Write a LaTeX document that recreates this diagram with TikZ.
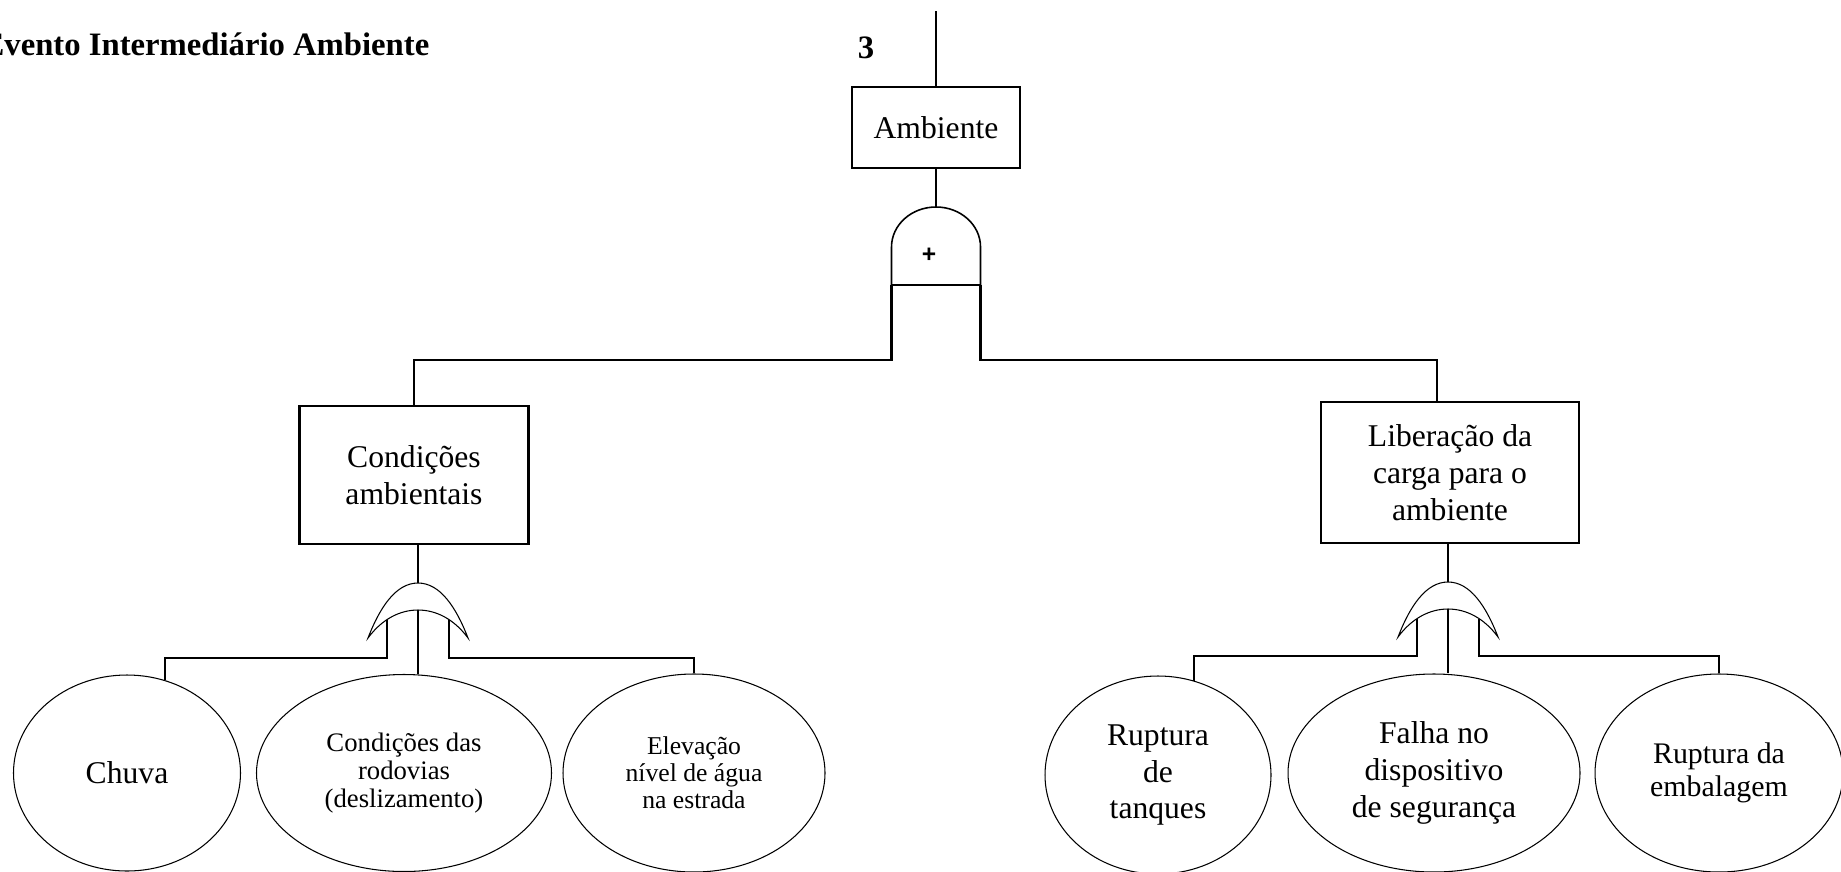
\documentclass[tikz,border=0pt]{standalone}
\usepackage{fontspec}
\setmainfont{Liberation Serif}
\newfontfamily\gatefont{Liberation Sans}
\usetikzlibrary{shapes.geometric}

\tikzset{
  evento/.style={draw, line width=0.6pt, align=center, inner sep=0pt, font=\fontsize{9pt}{10.5pt}\selectfont},
  basico/.style={draw, ellipse, line width=0.3pt, align=center, inner sep=0pt},
  ligacao/.style={line width=0.6pt},
  linhaporta/.style={line width=0.45pt},
  titulo/.style={inner sep=0pt, font=\bfseries\fontsize{9.3pt}{10.5pt}\selectfont},
  portae/.pic={
    \draw[linhaporta] (-44.5,-78) -- (-44.5,-40) arc[start angle=180, end angle=0, x radius=4.45mm, y radius=4mm] -- (44.5,-78) -- cycle;
    \node[font=\gatefont\bfseries\fontsize{7pt}{7pt}\selectfont, inner sep=0pt] (-mais) at (-7,-48) {+};
    \coordinate (-topo) at (0,0);
    \coordinate (-esq) at (-44.5,-78);
    \coordinate (-dir) at (44.5,-78);
  },
  portaou/.pic={
    \draw[linhaporta, line width=0.3pt] (-50,-55) .. controls (-38,-24) and (-22,0) .. (0,0)
      .. controls (22,0) and (38,-24) .. (50,-55)
      .. controls (36,-36) and (18,-27) .. (0,-27)
      .. controls (-18,-27) and (-36,-36) .. (-50,-55) -- cycle;
    \coordinate (-topo) at (0,0);
    \coordinate (-meio) at (0,-27);
    \coordinate (-esq) at (-31,-37);
    \coordinate (-dir) at (31,-37);
  }
}

\begin{document}
\begin{tikzpicture}[x=0.1mm, y=0.1mm]
\useasboundingbox (0,0) rectangle (1841,-871);

\node[titulo, anchor=base east] (cab) at (430,-56) {Evento Intermediário Ambiente};
\node[titulo, anchor=base] (num) at (866,-58) {3};

% eventos intermediarios
\node[evento, minimum width=16.8mm, minimum height=8.1mm] (amb) at (936,-127.5) {Ambiente};
\node[evento, minimum width=22.9mm, minimum height=13.8mm] (cond) at (414,-475) {Condições\\ambientais};
\node[evento, minimum width=25.8mm, minimum height=14.1mm] (lib) at (1450,-472.5) {Liberação da\\carga para o\\ambiente};

\pic (e1) at (936,-207) {portae};
\pic (ou1) at (418,-583) {portaou};
\pic (ou2) at (1448,-582) {portaou};

% eventos basicos
\node[basico, minimum width=22.7mm, minimum height=19.6mm, font=\fontsize{9pt}{10.5pt}\selectfont] (chuva) at (127,-773) {Chuva};
\node[basico, minimum width=29.5mm, minimum height=19.7mm, font=\fontsize{7.6pt}{7.9pt}\selectfont] (rod) at (404,-773) {Condições das\\rodovias\\(deslizamento)};
\node[basico, minimum width=26.2mm, minimum height=19.8mm, font=\fontsize{7.3pt}{7.7pt}\selectfont] (elev) at (694,-773) {Elevação\\nível de água\\na estrada};
\node[basico, minimum width=22.6mm, minimum height=19.8mm, font=\fontsize{9pt}{10.4pt}\selectfont] (tanq) at (1158,-775) {Ruptura\\de\\tanques};
\node[basico, minimum width=29.2mm, minimum height=19.8mm, font=\fontsize{9pt}{10.5pt}\selectfont] (falha) at (1434,-773) {Falha no\\dispositivo\\de segurança};
\node[basico, minimum width=24.8mm, minimum height=19.8mm, font=\fontsize{8.5pt}{9.4pt}\selectfont] (emb) at (1719,-773) {Ruptura da\\embalagem};

\coordinate (topo) at (936,-11);
\coordinate (barra1) at (0,-360);
\coordinate (barra2) at (0,-658);
\coordinate (barra3) at (0,-656);

\draw[ligacao] (topo) -- (amb.north);
\draw[ligacao] (amb.south) -- (e1-topo);
\draw[ligacao] (e1-esq) -- (e1-esq |- barra1) -| (cond.north);
\draw[ligacao] (e1-dir) -- (e1-dir |- barra1) -| ([xshift=-1.3mm]lib.north);

\draw[ligacao] (ou1-topo |- cond.south) -- (ou1-topo);
\draw[ligacao] (ou1-esq) -- (ou1-esq |- barra2) -| (chuva.68);
\draw[ligacao] (ou1-meio) -- (ou1-meio |- rod.north);
\draw[ligacao] (ou1-dir) -- (ou1-dir |- barra2) -| (elev.north);

\draw[ligacao] (ou2-topo |- lib.south) -- (ou2-topo);
\draw[ligacao] (ou2-esq) -- (ou2-esq |- barra3) -| (tanq.69);
\draw[ligacao] (ou2-meio) -- (ou2-meio |- falha.north);
\draw[ligacao] (ou2-dir) -- (ou2-dir |- barra3) -| (emb.north);
\end{tikzpicture}
\end{document}
